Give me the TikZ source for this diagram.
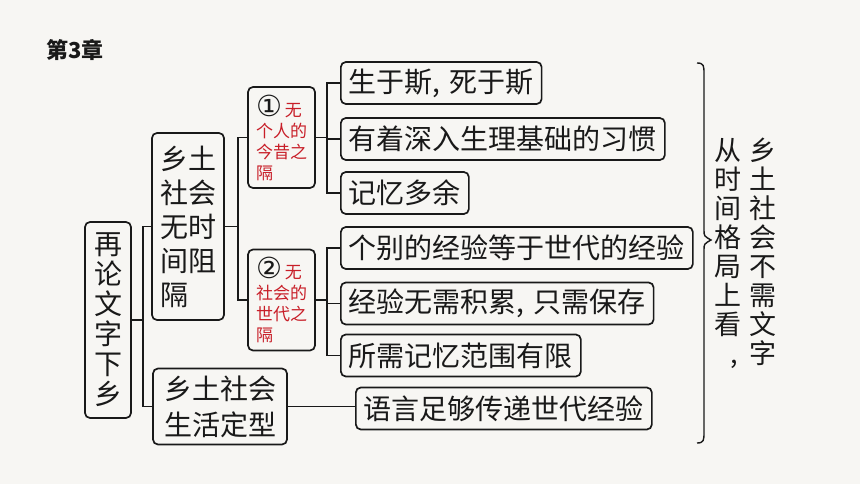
\documentclass[tikz,border=0pt]{standalone}
\usepackage{fontspec}
\setmainfont{Noto Sans CJK SC}
\newfontfamily\numfont{DejaVu Sans}
\usepackage{tikz}
\usetikzlibrary{positioning}      % relative placement

\definecolor{paper}{RGB}{247,246,243}
\definecolor{ink}{RGB}{25,25,25}
\definecolor{hint}{RGB}{200,30,40}

\newcommand{\circnum}[1]{{\color{ink}\numfont\fontsize{29}{21}\selectfont #1}}

\tikzset{
  box/.style={draw=ink, line width=1.7pt, rounded corners=5pt, text=ink,
              inner xsep=8pt, inner ysep=6pt, font=\fontsize{28}{34}\selectfont},
  leaf/.style={box, anchor=west, minimum height=42pt},
  gap/.style={box, minimum width=67pt, minimum height=101pt, align=left,
              inner xsep=6pt, inner ysep=3pt, text=hint, font=\fontsize{17}{21}\selectfont},
  column/.style={anchor=north, inner sep=0pt, align=center, text=ink,
                 font=\fontsize{27}{29}\selectfont},
  link/.style={draw=ink, line width=1.7pt},
}

\begin{document}
\begin{tikzpicture}[x=1pt, y=-1pt]
    \fill[paper] (0,0) rectangle (860,484);
    \useasboundingbox (0,0) rectangle (860,484);

    \node[anchor=west, text=ink, font=\fontsize{22}{26}\selectfont\bfseries] (chap) at (43,50) {第3章};

    \node[box, minimum width=46pt, minimum height=196pt, align=center,
          font=\fontsize{28}{30}\selectfont] (root) at (108,320) {再\\论\\文\\字\\下\\乡};
    \node[box, minimum width=72pt, minimum height=187pt, align=left] (mid) at (188,226.5) {乡土\\社会\\无时\\间阻\\隔};
    \node[box, minimum width=134pt, minimum height=76pt, align=center,
          font=\fontsize{28}{36}\selectfont] (life) at (220,406.5) {乡土社会\\生活定型};

    \node[gap] (one) at (281.5,137.5) {\circnum{①}\,无\\个人的\\今昔之\\隔};
    \node[gap] (two) at (281.5,300) {\circnum{②}\,无\\社会的\\世代之\\隔};

    \node[leaf] (a) at (340,83) {生于斯,\hspace{9pt}死于斯};
    \node[leaf] (b) at (340,139) {有着深入生理基础的习惯};
    \node[leaf] (c) at (340,193) {记忆多余};
    \node[leaf] (d) at (340,248) {个别的经验等于世代的经验};
    \node[leaf] (e) at (340,303.5) {经验无需积累,\hspace{9pt}只需保存};
    \node[leaf] (f) at (340,355.5) {所需记忆范围有限};
    \node[leaf] (lang) at (355,408.5) {语言足够传递世代经验};

    \draw[link] (root.east) -- ++(11,0) |- (mid.west);
    \draw[link] (root.east) -- ++(11,0) |- (life.west);
    \draw[link] (mid.east) -- ++(13,0) |- (one.west);
    \draw[link] (mid.east) -- ++(13,0) |- (two.west);
    \foreach \n in {a,b,c}
        \draw[link] (one.east) -- ++(11,0) |- (\n.west);
    \foreach \n in {d,e,f}
        \draw[link] (two.east) -- ++(11,0) |- (\n.west);
    \draw[link] (life.east) -- (life.east -| lang.west);

    \draw[link, line width=1.4pt] (697,63) .. controls (704,63) and (704,66) .. (704,74) -- (704,230)
        .. controls (704,236) .. (711,240) .. controls (704,244) .. (704,250) -- (704,432)
        .. controls (704,440) and (704,443) .. (697,443);

    \node[column] (colr) at (763,138) {乡\\土\\社\\会\\不\\需\\文\\字};
    \node[column] (coll) at (728,138) {从\\时\\间\\格\\局\\上\\看\\\makebox[27pt][r]{,\hspace{4pt}}};
\end{tikzpicture}
\end{document}
